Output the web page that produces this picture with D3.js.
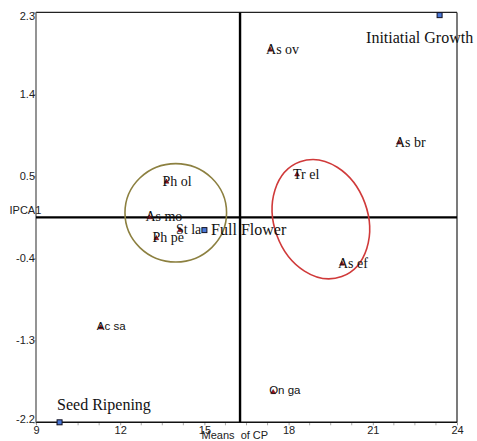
<!DOCTYPE html>
<html>
<head>
<meta charset="utf-8">
<script src="https://cdn.jsdelivr.net/npm/d3@7"></script>
<style>
  body { margin: 0; background: #fff; }
  svg { display: block; }
</style>
</head>
<body>
<div id="chart"></div>
<script>
// genotypes (means of CP, IPCA1)
const genotypes = ["As ov", "As br", "Ph ol", "As mo", "St la", "Ph pe", "Tr el", "As ef", "Ac sa", "On ga"];
const genoMeans = [17.34, 21.93, 13.65, 13.04, 14.13, 13.29, 18.30, 19.90, 11.31, 17.45];
const genoIpca = [1.89, 0.87, 0.44, 0.05, -0.09, -0.18, 0.52, -0.46, -1.16, -1.87];

// environments
const environments = ["Initiatial Growth", "Full Flower", "Seed Ripening"];
const envMeans = [23.38, 15.00, 9.84];
const envIpca = [2.27, -0.09, -2.20];

// axis ticks
const xTicks = [9, 12, 15, 18, 21, 24];
const yTicks = [2.3, 1.4, 0.5, -0.4, -1.3, -2.2];
const grandMean = 16.27;
const ipcaZero = 0.05;

// group ellipses: centre x, centre y, semi axis x, semi axis y, rotation
const groupCx = [13.98, 19.15];
const groupCy = [0.10, 0.03];
const groupRx = [1.81, 1.67];
const groupRy = [0.54, 0.67];
const groupRot = [0, -20];
const groupColor = ["#8c8040", "#d03a3a"];

const sansLabels = ["Ac sa", "On ga"];
const envLabelOffset = {
  "Initiatial Growth": [-73.5, 27.5],
  "Full Flower": [6.7, 5],
  "Seed Ripening": [-2.5, -12]
};

const width = 477, height = 441;
const plotLeft = 36, plotRight = 457, plotTop = 12.4, plotBottom = 422.3;

const svg = d3.select('#chart').append('svg')
  .attr('width', width)
  .attr('height', height);

const xScale = d3.scaleLinear().domain([9, 24]).range([plotLeft, plotRight]);
const yScale = d3.scaleLinear().domain([-2.2, 2.3]).range([plotBottom, plotTop]);

// minor ticks on x
const minorX = d3.range(9, 24.01, 0.75).filter(function(d) { return xTicks.indexOf(d) === -1; });
svg.append('g')
  .selectAll('line')
  .data(minorX)
  .enter()
  .append('line')
  .attr('x1', function(d) { return xScale(d); })
  .attr('x2', function(d) { return xScale(d); })
  .attr('y1', plotBottom)
  .attr('y2', plotBottom + 3)
  .attr('stroke', '#aaa')
  .attr('stroke-width', 1);

const xAxis = d3.axisBottom(xScale)
  .tickValues(xTicks)
  .tickSize(3)
  .tickPadding(1)
  .tickFormat(d3.format('d'));
const gx = svg.append('g')
  .attr('transform', 'translate(0,' + plotBottom + ')')
  .call(xAxis);
gx.select('.domain').remove();
gx.selectAll('line').attr('stroke', '#999');
gx.selectAll('text')
  .attr('font-family', 'Liberation Sans, Arial, sans-serif')
  .attr('font-size', '11px')
  .attr('fill', '#222');

// plain hyphen for negatives, as in the original
const yFormat = function(d) { return d3.format('.1f')(d).replace('\u2212', '-'); };
const yAxis = d3.axisLeft(yScale)
  .tickValues(yTicks)
  .tickSize(3)
  .tickPadding(-2)
  .tickFormat(yFormat);
const gy = svg.append('g')
  .attr('transform', 'translate(' + plotLeft + ',0)')
  .call(yAxis);
gy.select('.domain').remove();
gy.selectAll('line').attr('stroke', '#999');
gy.selectAll('text')
  .attr('font-family', 'Liberation Sans, Arial, sans-serif')
  .attr('font-size', '11px')
  .attr('fill', '#222')
  .attr('dy', function(d) {
    if (d === 2.3) return '0.62em';
    if (d === -2.2) return '0em';
    return '0.32em';
  });

// frame
svg.append('line').attr('x1', plotLeft).attr('x2', plotRight).attr('y1', plotTop).attr('y2', plotTop)
  .attr('stroke', '#222').attr('stroke-width', 1.2);
svg.append('line').attr('x1', plotRight).attr('x2', plotRight).attr('y1', plotTop).attr('y2', plotBottom)
  .attr('stroke', '#222').attr('stroke-width', 1.2);
svg.append('line').attr('x1', plotLeft).attr('x2', plotRight).attr('y1', plotBottom).attr('y2', plotBottom)
  .attr('stroke', '#111').attr('stroke-width', 1.4);
svg.append('line').attr('x1', plotLeft).attr('x2', plotLeft).attr('y1', plotTop).attr('y2', plotBottom)
  .attr('stroke', '#666').attr('stroke-width', 1.4);

// mean lines
svg.append('line')
  .attr('x1', xScale(grandMean)).attr('x2', xScale(grandMean))
  .attr('y1', plotTop).attr('y2', plotBottom)
  .attr('stroke', '#000').attr('stroke-width', 2.4);
svg.append('line')
  .attr('x1', plotLeft).attr('x2', plotRight)
  .attr('y1', yScale(ipcaZero)).attr('y2', yScale(ipcaZero))
  .attr('stroke', '#000').attr('stroke-width', 2.4);

// group ellipses
svg.append('g')
  .selectAll('ellipse')
  .data(groupCx)
  .enter()
  .append('ellipse')
  .attr('cx', 0)
  .attr('cy', 0)
  .attr('rx', function(d, i) { return xScale(groupCx[i] + groupRx[i]) - xScale(groupCx[i]); })
  .attr('ry', function(d, i) { return yScale(groupCy[i]) - yScale(groupCy[i] + groupRy[i]); })
  .attr('transform', function(d, i) {
    return 'translate(' + xScale(groupCx[i]) + ',' + yScale(groupCy[i]) + ') rotate(' + groupRot[i] + ')';
  })
  .attr('fill', 'none')
  .attr('stroke', function(d, i) { return groupColor[i]; })
  .attr('stroke-width', 1.6);

// genotype markers
const tri = d3.symbol().type(d3.symbolTriangle).size(10);
svg.append('g')
  .selectAll('path')
  .data(genotypes)
  .enter()
  .append('path')
  .attr('d', tri)
  .attr('transform', function(d, i) {
    return 'translate(' + xScale(genoMeans[i]) + ',' + yScale(genoIpca[i]) + ')';
  })
  .attr('fill', '#b01020')
  .attr('stroke', '#300')
  .attr('stroke-width', 0.5);

svg.append('g')
  .selectAll('text')
  .data(genotypes)
  .enter()
  .append('text')
  .attr('x', function(d, i) { return xScale(genoMeans[i]) - 4; })
  .attr('y', function(d, i) {
    return yScale(genoIpca[i]) + (sansLabels.indexOf(d) > -1 ? 2 : 4);
  })
  .attr('font-family', function(d) {
    return sansLabels.indexOf(d) > -1 ? 'Liberation Sans, Arial, sans-serif' : 'Liberation Serif, Times New Roman, serif';
  })
  .attr('font-size', function(d) { return sansLabels.indexOf(d) > -1 ? '11.5px' : '14px'; })
  .attr('fill', '#111')
  .text(function(d) { return d; });

// environment markers
svg.append('g')
  .selectAll('rect')
  .data(environments)
  .enter()
  .append('rect')
  .attr('x', function(d, i) { return xScale(envMeans[i]) - 2.5; })
  .attr('y', function(d, i) { return yScale(envIpca[i]) - 2.5; })
  .attr('width', 5)
  .attr('height', 5)
  .attr('fill', '#4a78d8')
  .attr('stroke', '#112')
  .attr('stroke-width', 1);

svg.append('g')
  .selectAll('text')
  .data(environments)
  .enter()
  .append('text')
  .attr('x', function(d, i) { return xScale(envMeans[i]) + envLabelOffset[d][0]; })
  .attr('y', function(d, i) { return yScale(envIpca[i]) + envLabelOffset[d][1]; })
  .attr('font-family', 'Liberation Serif, Times New Roman, serif')
  .attr('font-size', '16px')
  .attr('fill', '#111')
  .text(function(d) { return d; });

// axis titles
svg.append('text')
  .attr('x', 9.5)
  .attr('y', 213.5)
  .attr('font-family', 'Liberation Sans, Arial, sans-serif')
  .attr('font-size', '11px')
  .attr('fill', '#222')
  .text('IPCA1');
svg.append('text')
  .attr('x', 201.5)
  .attr('y', 439)
  .attr('font-family', 'Liberation Sans, Arial, sans-serif')
  .attr('font-size', '11px')
  .attr('fill', '#222')
  .style('white-space', 'pre')
  .text('Means  of CP');
</script>
</body>
</html>
